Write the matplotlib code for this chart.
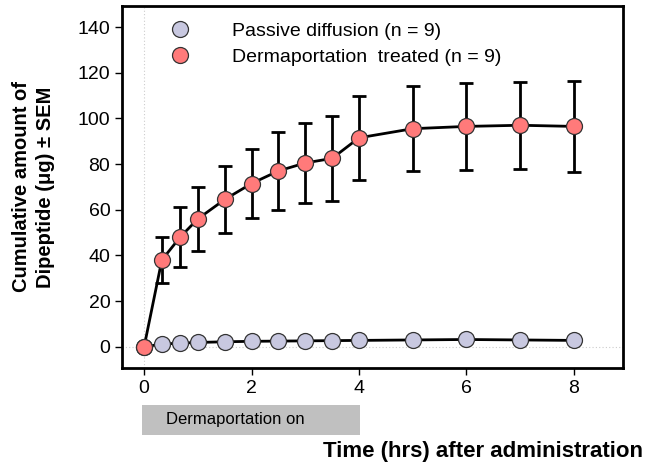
import matplotlib.pyplot as plt
from matplotlib.lines import Line2D
from matplotlib.patches import Rectangle

plt.rcParams["font.family"] = ["Liberation Sans", "DejaVu Sans"]

# sampling times (hrs)
time_hrs = [0, 0.33, 0.67, 1, 1.5, 2, 2.5, 3, 3.5, 4, 5, 6, 7, 8]
passive = [0, 1.2, 1.6, 1.9, 2.2, 2.4, 2.5, 2.6, 2.7, 2.8, 3.0, 3.2, 3.0, 2.8]
treated = [0, 38, 48, 56, 64.5, 71.5, 77, 80.5, 82.5, 91.5, 95.5, 96.5, 97, 96.5]
treated_sem = [0, 10, 13, 14, 14.5, 15, 17, 17.5, 18.5, 18.5, 18.5, 19, 19, 20]

passive_color = "#c8c8e0"
treated_color = "#ff7a7a"

fig = plt.figure(figsize=(6.46, 4.65), dpi=100)
ax = fig.add_axes([0.189, 0.209, 0.775, 0.778])

ax.axhline(0, color="#cccccc", lw=0.8, ls=(0, (1, 2)), zorder=0)
ax.axvline(0, color="#cccccc", lw=0.8, ls=(0, (1, 2)), zorder=0)

ax.errorbar(time_hrs[1:], treated[1:], yerr=treated_sem[1:], fmt="none",
            ecolor="black", elinewidth=2, capsize=5, capthick=2, zorder=2)
ax.plot(time_hrs, passive, color="black", lw=2, marker="o", ms=11.5,
        mfc=passive_color, mec="#333333", mew=0.9, zorder=3)
ax.plot(time_hrs, treated, color="black", lw=2, marker="o", ms=11.5,
        mfc=treated_color, mec="#333333", mew=0.9, zorder=4)

ax.set_xlim(-0.41, 8.91)
ax.set_ylim(-9.2, 149.2)
ax.set_xticks([0, 2, 4, 6, 8])
ax.set_yticks(range(0, 141, 20))
ax.tick_params(direction="out", length=5, width=1, labelsize=14, top=False, right=False)
for s in ax.spines.values():
    s.set_linewidth(2)

handles = [
    Line2D([], [], ls="none", marker="o", ms=11.5, mfc=passive_color, mec="#333333", mew=0.9),
    Line2D([], [], ls="none", marker="o", ms=11.5, mfc=treated_color, mec="#333333", mew=0.9),
]
labels = ["Passive diffusion (n = 9)", "Dermaportation  treated (n = 9)"]
ax.legend(handles, labels, loc="upper left", bbox_to_anchor=(0.096, 0.954), frameon=False,
          fontsize=14, handlelength=1.0, handletextpad=2.2, labelspacing=0.42,
          borderaxespad=0, borderpad=0)

ax.set_ylabel("Cumulative amount of\nDipeptide (\u03bcg) \u00b1 SEM", fontsize=14.5,
              fontweight="bold", labelpad=16, linespacing=1.35)
fig.text(0.996, 0.028, "Time (hrs) after administration", ha="right", va="center",
         fontsize=16, fontweight="bold")

ax.add_patch(Rectangle((-0.04, -38.5), 4.06, 13.1, transform=ax.transData,
                       facecolor="#c0c0c0", edgecolor="none", clip_on=False))
ax.text(0.4, -32, "Dermaportation on", fontsize=12, va="center", ha="left",
        clip_on=False)

fig.savefig("out.png", dpi=100)
